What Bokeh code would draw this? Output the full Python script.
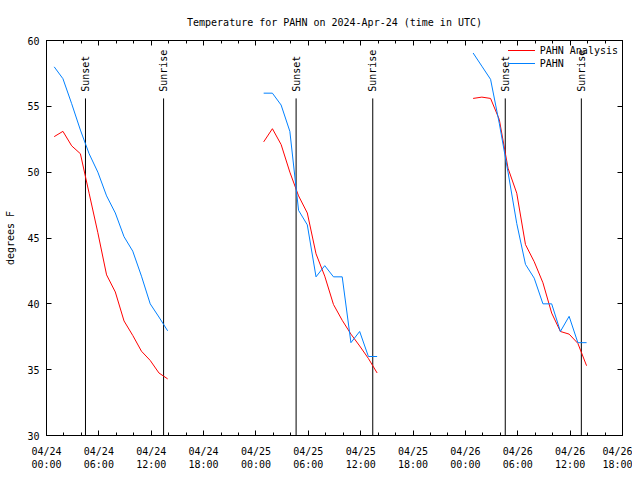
import pandas as pd
from bokeh.plotting import figure
from bokeh.models import (FixedTicker, DatetimeAxis, LinearAxis, Range1d,
                          Legend, LegendItem, ColumnDataSource)
from bokeh.core.properties import value
from bokeh.embed import file_html
from bokeh.resources import INLINE

# ---------------- data ----------------
title_text = "Temperature for PAHN on 2024-Apr-24 (time in UTC)"
y_axis_label = "degrees F"
series_names = ["PAHN Analysis", "PAHN"]

days = ["2024-04-24", "2024-04-25", "2024-04-26"]
obs_clock = ["00:53", "01:53", "02:53", "03:53", "04:53", "05:53", "06:53",
             "07:53", "08:53", "09:53", "10:53", "11:53", "12:53", "13:53"]

analysis_0424 = [52.7, 53.1, 52.0, 51.4, 48.4, 45.4, 42.2, 40.9, 38.7, 37.6, 36.4, 35.7, 34.75, 34.3]
analysis_0425 = [52.3, 53.3, 52.1, 50.0, 48.2, 46.9, 43.8, 42.1, 39.95, 38.75, 37.7, 36.8, 35.85, 34.75]
analysis_0426 = [55.6, 55.7, 55.6, 54.0, 50.3, 48.4, 44.5, 43.2, 41.6, 39.3, 37.9, 37.7, 37.0, 35.3]

pahn_0424 = [58.0, 57.1, 55.2, 53.2, 51.4, 50.0, 48.2, 46.9, 45.1, 44.0, 42.1, 40.0, 39.0, 37.95]
pahn_0425 = [56.0, 56.0, 55.1, 53.1, 47.1, 46.0, 42.05, 42.9, 42.05, 42.05, 37.05, 37.9, 36.0, 36.0]
pahn_0426 = [59.05, 58.05, 57.05, 53.7, 50.0, 46.1, 43.0, 41.95, 40.0, 40.0, 37.9, 39.05, 37.05, 37.05]

sunset_times = ["2024-04-24 04:28", "2024-04-25 04:36", "2024-04-26 04:34"]
sunrise_times = ["2024-04-24 13:25", "2024-04-25 13:23", "2024-04-26 13:17"]
event_names = ["Sunset", "Sunrise"]

x_tick_times = ["2024-04-24 00:00", "2024-04-24 06:00", "2024-04-24 12:00", "2024-04-24 18:00",
                "2024-04-25 00:00", "2024-04-25 06:00", "2024-04-25 12:00", "2024-04-25 18:00",
                "2024-04-26 00:00", "2024-04-26 06:00", "2024-04-26 12:00", "2024-04-26 18:00"]
x_tick_labels = ["04/24\n00:00", "04/24\n06:00", "04/24\n12:00", "04/24\n18:00",
                 "04/25\n00:00", "04/25\n06:00", "04/25\n12:00", "04/25\n18:00",
                 "04/26\n00:00", "04/26\n06:00", "04/26\n12:00", "04/26\n18:00"]
y_ticks = [30, 35, 40, 45, 50, 55, 60]

# ---------------- styling ----------------
FONT = "DejaVu Sans Mono"
FS = "10px"
RED = "#ff0000"
BLUE = "#0080ff"
event_line_top = 55.6
event_label_y = 56.1


def ms(t):
    return float(pd.Timestamp(t).value // 10**6)


x_start, x_end = ms(x_tick_times[0]), ms(x_tick_times[-1])
major_ms = [ms(t) for t in x_tick_times]
minor_ms = [ms(t) for t in pd.date_range(x_tick_times[0], x_tick_times[-1], freq="2h")]

p = figure(width=632, height=472, x_axis_type="datetime",
           x_range=Range1d(x_start, x_end), y_range=Range1d(y_ticks[0], y_ticks[-1]),
           output_backend="svg", toolbar_location=None,
           min_border_left=46, min_border_right=10, min_border_top=40, min_border_bottom=32)
p.background_fill_color = "white"
p.border_fill_color = "white"
p.outline_line_color = "black"
p.outline_line_width = 1
p.xgrid.visible = False
p.ygrid.visible = False

p.title.text = title_text
p.title.align = "center"
p.title.text_font = FONT
p.title.text_font_size = FS
p.title.text_font_style = "normal"
p.title.text_color = "black"
p.title.standoff = 25

xticker = FixedTicker(ticks=major_ms, minor_ticks=minor_ms)
yticker = FixedTicker(ticks=y_ticks, minor_ticks=[])


def style_axis(ax):
    ax.axis_line_color = "black"
    ax.major_tick_line_color = "black"
    ax.minor_tick_line_color = "black"
    ax.major_tick_in = 5
    ax.major_tick_out = 0
    ax.minor_tick_in = 3
    ax.minor_tick_out = 0
    ax.major_label_text_font = FONT
    ax.major_label_text_font_size = FS
    ax.major_label_text_color = "black"
    ax.axis_label_text_font = FONT
    ax.axis_label_text_font_size = FS
    ax.axis_label_text_font_style = "normal"
    ax.axis_label_text_color = "black"


xa = p.xaxis[0]
xa.ticker = xticker
xa.major_label_overrides = dict(zip(major_ms, x_tick_labels))
style_axis(xa)
xa.major_label_standoff = 10

ya = p.yaxis[0]
ya.ticker = yticker
ya.axis_label = y_axis_label
style_axis(ya)
ya.major_label_standoff = 7
ya.axis_label_standoff = 8

top_axis = DatetimeAxis(ticker=xticker, major_label_overrides={t: "" for t in major_ms},
                        major_label_standoff=0)
style_axis(top_axis)
p.add_layout(top_axis, "above")

right_axis = LinearAxis(ticker=yticker, major_label_overrides={t: "" for t in y_ticks},
                        major_label_standoff=0)
style_axis(right_axis)
p.add_layout(right_axis, "right")

# ---------------- event lines ----------------
for times, name in zip([sunset_times, sunrise_times], event_names):
    ts = pd.to_datetime(times)
    src = ColumnDataSource(dict(x=ts, y0=[y_ticks[0]] * len(ts), y1=[event_line_top] * len(ts),
                                ly=[event_label_y] * len(ts), txt=[name] * len(ts)))
    p.segment(x0="x", y0="y0", x1="x", y1="y1", source=src, line_color="black", line_width=1)
    p.text(x="x", y="ly", text="txt", source=src, angle=90, angle_units="deg",
           text_align="left", text_baseline="middle", text_font=value(FONT),
           text_font_size=FS, text_color="black")

# ---------------- data lines ----------------
analysis_series = [analysis_0424, analysis_0425, analysis_0426]
pahn_series = [pahn_0424, pahn_0425, pahn_0426]

red_renderers, blue_renderers = [], []
for day, vals in zip(days, analysis_series):
    t = pd.to_datetime([f"{day} {c}" for c in obs_clock])
    red_renderers.append(p.line(t, vals, line_color=RED, line_width=1))
for day, vals in zip(days, pahn_series):
    t = pd.to_datetime([f"{day} {c}" for c in obs_clock])
    blue_renderers.append(p.line(t, vals, line_color=BLUE, line_width=1))

legend = Legend(items=[LegendItem(label=series_names[0], renderers=red_renderers),
                       LegendItem(label=series_names[1], renderers=blue_renderers)],
                location="top_right")
legend.background_fill_alpha = 0
legend.border_line_color = None
legend.label_text_font = FONT
legend.label_text_font_size = FS
legend.label_text_color = "black"
legend.glyph_width = 27
legend.glyph_height = 12
legend.label_height = 12
legend.spacing = 1
legend.padding = 2
legend.margin = 4
legend.label_standoff = 5
p.add_layout(legend)

open("out.html", "w").write(file_html(p, INLINE))
